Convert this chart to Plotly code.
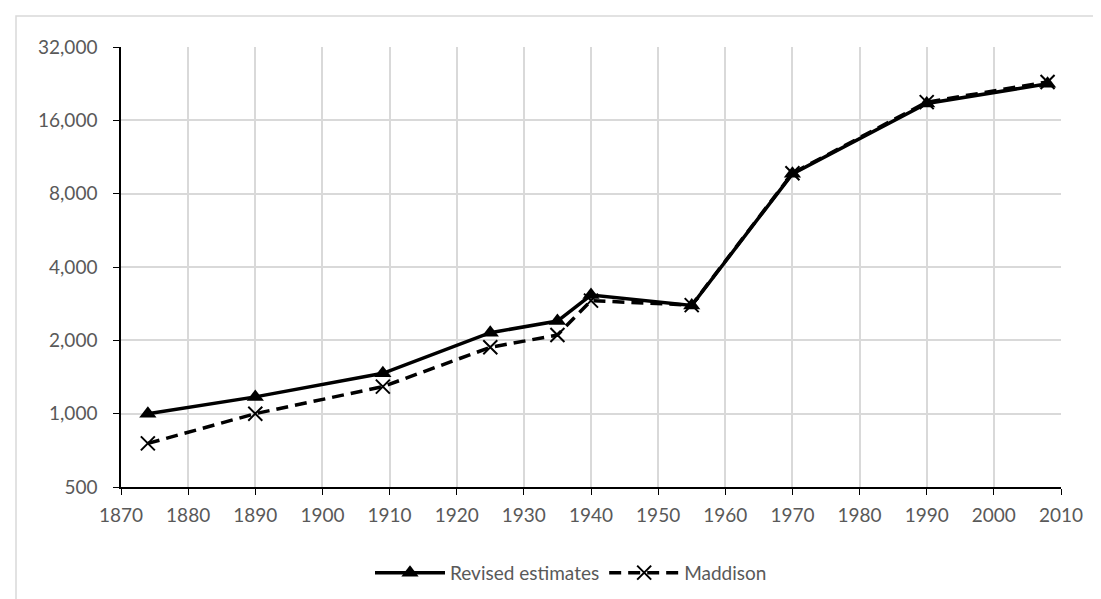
import plotly.graph_objects as go

years = [1874, 1890, 1909, 1925, 1935, 1940, 1955, 1970, 1990, 2008]
revised = [1000, 1172, 1464, 2150, 2400, 3070, 2780, 9650, 18750, 22600]
maddison = [755, 1000, 1291, 1872, 2103, 2910, 2790, 9700, 19000, 23000]

y_ticks = [500, 1000, 2000, 4000, 8000, 16000, 32000]
y_labels = ["500", "1,000", "2,000", "4,000", "8,000", "16,000", "32,000"]
x_ticks = list(range(1870, 2011, 10))

FONT = "Lato, 'Liberation Sans', sans-serif"
TXT = "#595959"
GRID = "#d9d9d9"

fig = go.Figure()
fig.add_trace(go.Scatter(
    x=years, y=revised, name="Revised estimates", mode="lines+markers",
    line=dict(color="black", width=3.5),
    marker=dict(symbol="triangle-up", size=15, color="black"),
))
fig.add_trace(go.Scatter(
    x=years, y=maddison, name="Maddison", mode="lines+markers",
    line=dict(color="black", width=3.5, dash="12px,7px"),
    marker=dict(symbol="x-thin", size=14, color="black",
                line=dict(color="black", width=2)),
))

fig.update_xaxes(
    range=[1870, 2010], tickvals=x_ticks, showgrid=True, gridcolor=GRID, gridwidth=1.5,
    showline=True, linecolor="black", linewidth=1.5, ticks="outside", ticklen=6,
    tickcolor="black", tickfont=dict(family=FONT, size=19, color=TXT), zeroline=False,
    ticklabelstandoff=4,
)
fig.update_yaxes(
    type="log", range=[2.69897, 4.50515], tickvals=y_ticks, ticktext=y_labels,
    showgrid=True, gridcolor=GRID, gridwidth=1.5,
    showline=True, linecolor="black", linewidth=1.5, ticks="outside", ticklen=6,
    tickcolor="black", tickfont=dict(family=FONT, size=19, color=TXT), zeroline=False,
    ticklabelstandoff=12,
)

fig.add_shape(type="rect", xref="paper", yref="paper",
              x0=(8 - 113) / 940, x1=1.1, y0=-0.3, y1=(479 - 8) / 440,
              line=dict(color=GRID, width=1.5), layer="below")

fig.update_layout(
    width=1101, height=599,
    margin=dict(l=113, r=48, t=39, b=120),
    plot_bgcolor="white", paper_bgcolor="white",
    font=dict(family=FONT, size=19, color=TXT),
    showlegend=True,
    legend=dict(orientation="h", x=(563 - 113) / 940, xanchor="center",
                y=-0.195, yanchor="middle",
                font=dict(family=FONT, size=19, color=TXT), itemwidth=70,
                traceorder="normal"),
)

fig.write_html("out.html")
